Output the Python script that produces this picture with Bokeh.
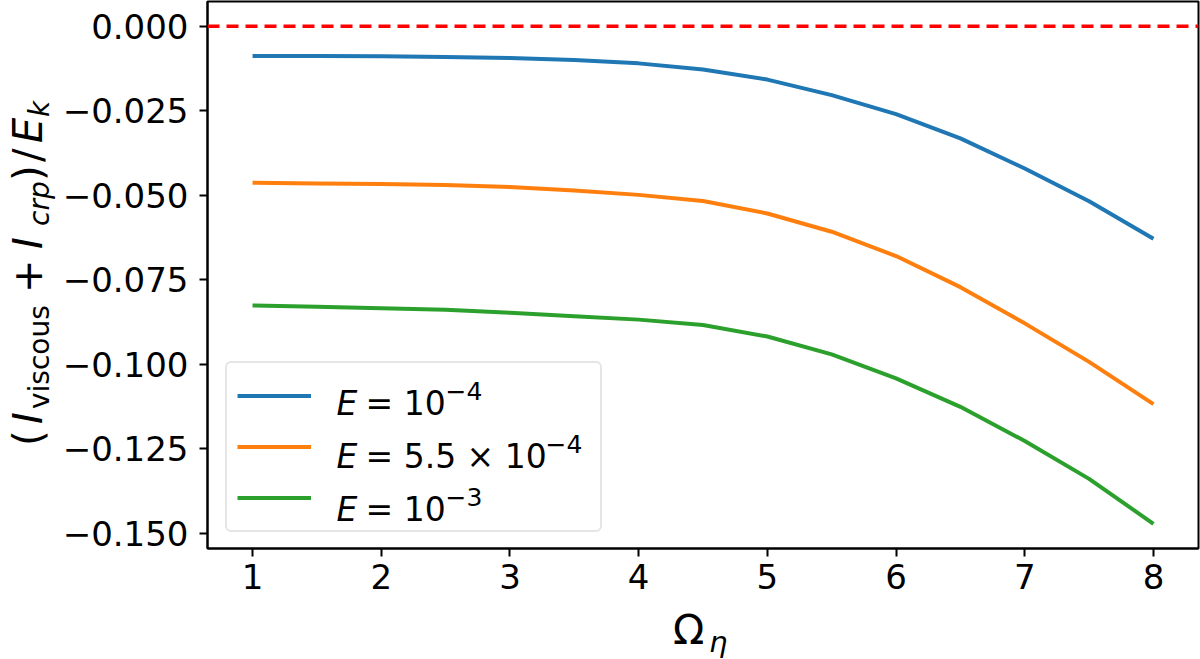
from bokeh.plotting import figure
from bokeh.models import (Span, Label, Legend, LegendItem, FixedTicker,
                          CustomJSTickFormatter, Range1d, Div)
from bokeh.layouts import row, column
from bokeh.embed import file_html
from bokeh.resources import INLINE

# ---- data ----
omega = [1.0, 1.5, 2.0, 2.5, 3.0, 3.5, 4.0, 4.5, 5.0, 5.5, 6.0, 6.5, 7.0, 7.5, 8.0]
e_1e4 = [-0.0088, -0.0088, -0.0089, -0.0091, -0.0094, -0.0100, -0.0110, -0.0128,
         -0.0158, -0.0204, -0.0260, -0.0332, -0.0421, -0.0518, -0.0629]
e_55e4 = [-0.0463, -0.0465, -0.0467, -0.0470, -0.0476, -0.0486, -0.0499, -0.0517,
          -0.0554, -0.0608, -0.0680, -0.0772, -0.0879, -0.0993, -0.1118]
e_1e3 = [-0.0826, -0.0830, -0.0834, -0.0839, -0.0848, -0.0858, -0.0868, -0.0884,
         -0.0918, -0.0971, -0.1042, -0.1126, -0.1227, -0.1339, -0.1472]
reference_level = 0.0
x_ticks = [1, 2, 3, 4, 5, 6, 7, 8]
y_ticks = [0.0, -0.025, -0.05, -0.075, -0.1, -0.125, -0.15]

FONT = "DejaVu Sans"
YDIV_W = 55          # width of the y-label strip
FIG_H = 610          # figure height; x-label strip below
FL = 207             # frame left in page px
FB = 548             # frame bottom in page px

p = figure(width=1200 - YDIV_W, height=FIG_H, output_backend="svg",
           toolbar_location=None,
           x_range=Range1d(0.65, 8.35), y_range=Range1d(-0.1545, 0.0073),
           min_border_left=FL - YDIV_W, min_border_right=2, min_border_top=1,
           min_border_bottom=FIG_H - FB)
p.background_fill_color = "white"
p.border_fill_color = "white"
p.outline_line_color = "black"
p.outline_line_width = 2
p.xgrid.visible = False
p.ygrid.visible = False

for ax in (p.xaxis[0], p.yaxis[0]):
    ax.axis_line_color = "black"
    ax.axis_line_width = 2
    ax.major_tick_line_color = "black"
    ax.major_tick_line_width = 2
    ax.major_tick_out = 8
    ax.major_tick_in = 0
    ax.minor_tick_line_color = None
    ax.major_label_text_font = FONT
    ax.major_label_text_font_size = "34px"
    ax.major_label_text_color = "black"

p.xaxis[0].ticker = FixedTicker(ticks=x_ticks)
p.yaxis[0].ticker = FixedTicker(ticks=y_ticks)
p.xaxis[0].major_label_standoff = 7
p.yaxis[0].major_label_standoff = 11
p.yaxis[0].formatter = CustomJSTickFormatter(code="""
    const a = Math.abs(tick).toFixed(3);
    return (tick < -1e-12 ? "\\u2212" : "") + a;
""")

p.add_layout(Span(location=reference_level, dimension="width", line_color="#ff0000",
                  line_width=3.5, line_dash="12 7"))

r1 = p.line(omega, e_1e4, line_color="#1f77b4", line_width=4)
r2 = p.line(omega, e_55e4, line_color="#ff7f0e", line_width=4)
r3 = p.line(omega, e_1e3, line_color="#2ca02c", line_width=4)

legend = Legend(items=[LegendItem(label=" ", renderers=[r]) for r in (r1, r2, r3)],
                location=(18, 16), padding=10, spacing=6, margin=0,
                label_height=45, glyph_height=45, glyph_width=74,
                label_standoff=26, label_width=253,
                label_text_font_size="10px",
                border_line_color="#cccccc", border_line_width=2,
                border_radius=6, background_fill_color=None)
p.add_layout(legend, "center")


def lab(text, cx, cy, size, italic=False):
    p.add_layout(Label(x=cx - FL, y=FB - cy, x_units="screen", y_units="screen",
                       text=text, text_font=FONT, text_font_size=f"{size}px",
                       text_font_style="italic" if italic else "normal",
                       text_color="black", text_align="left",
                       text_baseline="alphabetic", level="overlay"))


# legend texts  E = 10^-4 ...
rows = [(403, "= 10", "\u22124", 445), (456, "= 5.5 \u00d7 10", "\u22124", 545),
        (509, "= 10", "\u22123", 445)]
for base, mid, sup, sx in rows:
    lab("E", 336, base, 33, italic=True)
    lab(mid, 365, base, 33)
    lab(sup, sx, base - 13, 25)

ASC = 0.846  # baseline offset (in em) of a DejaVu line box with line-height 1


def span(text, bx, by, size, italic=False, rotate=False, top0=0):
    st = "italic" if italic else "normal"
    if rotate:
        left, top = bx - ASC * size, by - top0
        tr = "transform:rotate(-90deg);transform-origin:0 0;"
    else:
        left, top = bx, by - top0 - ASC * size
        tr = ""
    return (f'<span style="position:absolute;left:{left:.1f}px;top:{top:.1f}px;'
            f'font-family:\'DejaVu Sans\';font-size:{size}px;font-style:{st};'
            f'line-height:1;white-space:nowrap;color:black;{tr}">{text}</span>')


# y-axis label (I_viscous + I_crp)/E_k, reading bottom to top
MB, SB = 42, 50
ypieces = [
    ("(", MB, 446, 40, False), ("I", MB, 424, 40, True),
    ("viscous", SB, 409, 28, False), ("+", MB, 293, 40, False),
    ("I", MB, 249, 40, True), ("crp", SB, 226, 28, True),
    (")", MB, 181, 40, False), ("/", MB, 162, 40, False),
    ("E", MB, 143, 40, True), ("k", SB, 117, 28, True),
]
yhtml = "".join(span(t, bx, by, s, it, rotate=True) for t, bx, by, s, it in ypieces)
ydiv = Div(width=YDIV_W, height=FIG_H, margin=0,
           text=f'<div style="position:relative;width:{YDIV_W}px;height:{FIG_H}px;">{yhtml}</div>')

# x-axis label Omega_eta
xpieces = [("\u03a9", 673, 645, 41, False), ("\u03b7", 709, 652, 29, True)]
xhtml = "".join(span(t, bx, by, s, it, top0=FIG_H) for t, bx, by, s, it in xpieces)
XDIV_H = 659 - FIG_H
xdiv = Div(width=1200, height=XDIV_H, margin=0,
           text=f'<div style="position:relative;width:1200px;height:{XDIV_H}px;">{xhtml}</div>')

layout = column(row(ydiv, p, spacing=0), xdiv, spacing=0)
open("out.html", "w").write(file_html(layout, INLINE))
